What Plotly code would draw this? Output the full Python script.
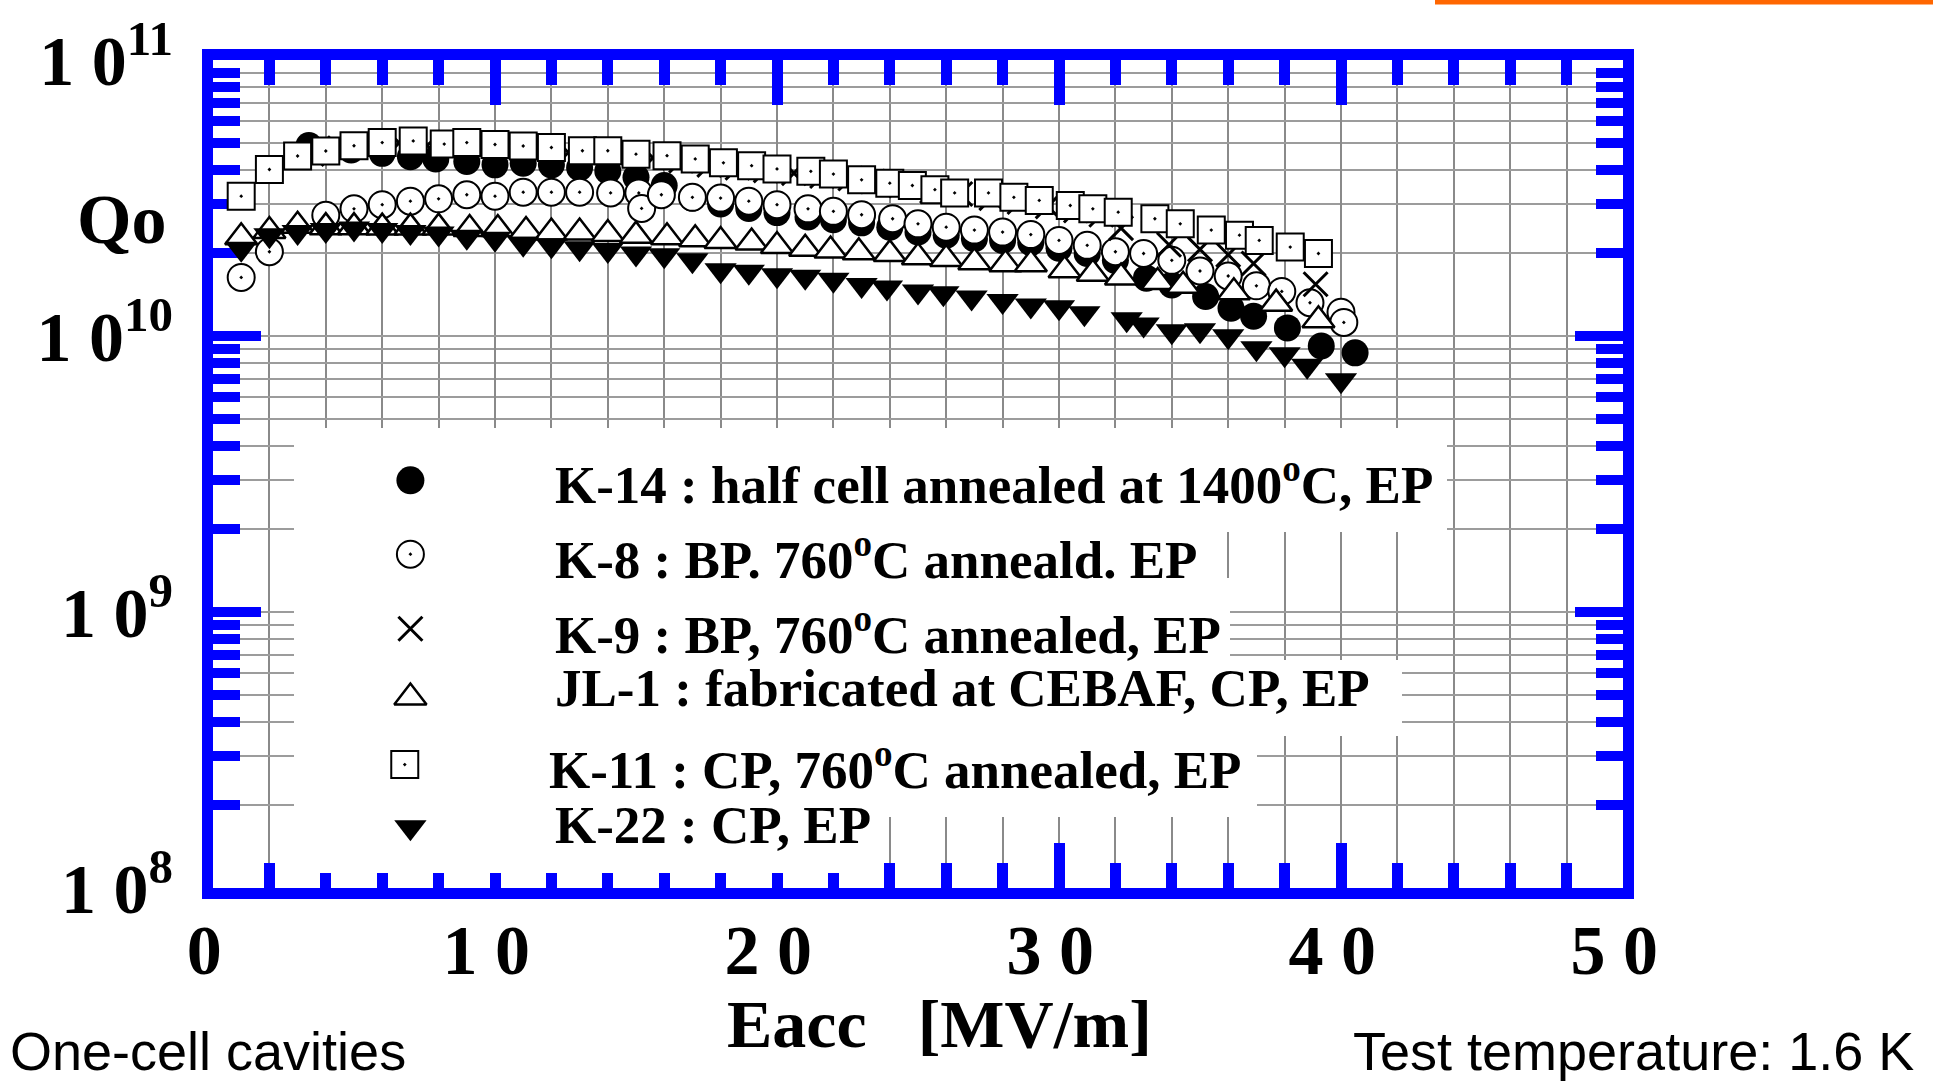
import plotly.graph_objects as go

# ---------------------------------------------------------------- geometry
FIG_W, FIG_H = 1933, 1082
M_L, M_R, M_T, M_B = 213, 310, 60, 194
PLOT_W = FIG_W - M_L - M_R
PLOT_H = FIG_H - M_T - M_B

X_RANGE = [0, 50]
Y_RANGE_LOG = [8, 11]

BLUE = "#0000ff"
GRID_V = "#8a8a8a"
GRID_H = "#9c9c9c"
SERIF = "Liberation Serif, Times New Roman, serif"
SANS = "Liberation Sans, Arial, sans-serif"

# ---------------------------------------------------------------- data
# Eacc [MV/m] and Qo for each one-cell cavity
k14_e = [3.4, 4.9, 6.0, 7.0, 7.9, 9.0, 10.0, 11.0, 12.0, 13.0, 14.0, 15.0, 16.0, 17.0,
         18.0, 19.0, 20.0, 21.1, 22.0, 23.0, 24.0, 25.0, 26.0, 27.0, 28.0, 29.0, 30.0,
         31.0, 32.0, 33.1, 34.0, 35.2, 36.1, 36.9, 38.1, 39.3, 40.5]
k14_q = [4.90e10, 4.72e10, 4.59e10, 4.46e10, 4.38e10, 4.29e10, 4.17e10, 4.23e10, 4.17e10,
         4.07e10, 3.96e10, 3.76e10, 3.51e10, 3.16e10, 3.01e10, 2.90e10, 2.80e10, 2.70e10,
         2.64e10, 2.57e10, 2.48e10, 2.38e10, 2.32e10, 2.25e10, 2.22e10, 2.18e10, 2.08e10,
         1.99e10, 1.88e10, 1.62e10, 1.53e10, 1.39e10, 1.26e10, 1.18e10, 1.07e10, 9.20e9,
         8.69e9]

k8_e = [1.0, 2.0, 4.0, 5.0, 6.0, 7.0, 8.0, 9.0, 10.0, 11.0, 12.0, 13.0, 14.1, 15.1, 15.2,
        15.9, 17.0, 18.0, 19.0, 20.0, 21.1, 22.0, 23.0, 24.1, 25.0, 26.0, 27.0, 28.0,
        29.0, 30.0, 31.0, 32.0, 33.0, 34.0, 35.0, 36.0, 37.0, 37.9, 38.9, 40.0, 40.1]
k8_q = [1.63e10, 2.02e10, 2.74e10, 2.89e10, 2.99e10, 3.08e10, 3.14e10, 3.25e10, 3.21e10,
        3.32e10, 3.32e10, 3.32e10, 3.30e10, 3.30e10, 2.90e10, 3.25e10, 3.18e10, 3.16e10,
        3.08e10, 2.99e10, 2.89e10, 2.83e10, 2.75e10, 2.66e10, 2.55e10, 2.48e10, 2.42e10,
        2.38e10, 2.33e10, 2.22e10, 2.13e10, 2.02e10, 1.99e10, 1.88e10, 1.72e10, 1.65e10,
        1.52e10, 1.45e10, 1.32e10, 1.22e10, 1.12e10]

k9_e = [3.5, 4.5, 5.5, 6.6, 7.6, 8.6, 9.6, 10.6, 11.6, 12.6, 13.6, 14.6, 15.6, 16.6,
        17.6, 18.6, 19.6, 20.6, 21.6, 22.6, 23.4, 24.4, 25.5, 26.5, 27.6, 28.6, 29.6,
        30.6, 31.5, 32.2, 33.9, 35.0, 36.0, 36.9, 39.1]
k9_q = [4.57e10, 4.79e10, 4.90e10, 5.01e10, 4.90e10, 4.90e10, 4.84e10, 4.79e10, 4.73e10,
        4.62e10, 4.57e10, 4.47e10, 4.42e10, 4.32e10, 4.17e10, 4.07e10, 3.98e10, 3.89e10,
        3.80e10, 3.72e10, 3.63e10, 3.51e10, 3.35e10, 3.27e10, 3.16e10, 3.06e10, 2.95e10,
        2.85e10, 2.75e10, 2.46e10, 2.14e10, 2.06e10, 1.97e10, 1.83e10, 1.54e10]

jl1_e = [1.0, 2.0, 3.0, 4.0, 5.0, 6.0, 7.0, 8.0, 9.1, 10.1, 11.1, 12.0, 13.0, 14.0, 15.0,
         16.1, 17.1, 18.0, 19.1, 20.0, 21.0, 21.9, 22.9, 24.0, 25.0, 26.0, 27.0, 28.1,
         29.0, 30.2, 31.2, 32.2, 33.5, 34.4, 36.2, 37.7, 39.2]
jl1_q = [2.28e10, 2.40e10, 2.51e10, 2.48e10, 2.48e10, 2.47e10, 2.47e10, 2.47e10, 2.44e10,
         2.44e10, 2.40e10, 2.37e10, 2.37e10, 2.34e10, 2.31e10, 2.28e10, 2.24e10, 2.21e10,
         2.18e10, 2.12e10, 2.07e10, 2.04e10, 2.01e10, 1.98e10, 1.93e10, 1.90e10, 1.85e10,
         1.82e10, 1.82e10, 1.73e10, 1.68e10, 1.63e10, 1.57e10, 1.52e10, 1.44e10, 1.31e10,
         1.14e10]

k11_e = [1.0, 2.0, 3.0, 4.0, 5.0, 6.0, 7.1, 8.2, 9.0, 10.0, 11.0, 12.0, 13.1, 14.0, 15.0,
         16.1, 17.1, 18.1, 19.1, 20.0, 21.2, 22.0, 23.0, 24.0, 24.8, 25.6, 26.3, 27.5,
         28.4, 29.3, 30.4, 31.2, 32.1, 33.4, 34.3, 35.4, 36.4, 37.1, 38.2, 39.2]
k11_q = [3.21e10, 4.01e10, 4.49e10, 4.68e10, 4.89e10, 5.02e10, 5.09e10, 4.96e10, 5.02e10,
         4.94e10, 4.88e10, 4.82e10, 4.69e10, 4.69e10, 4.56e10, 4.50e10, 4.38e10, 4.24e10,
         4.14e10, 4.03e10, 3.95e10, 3.86e10, 3.68e10, 3.58e10, 3.51e10, 3.39e10, 3.30e10,
         3.30e10, 3.18e10, 3.10e10, 2.97e10, 2.89e10, 2.81e10, 2.66e10, 2.55e10, 2.42e10,
         2.32e10, 2.22e10, 2.10e10, 1.99e10]

k22_e = [1.0, 2.0, 3.0, 4.0, 5.0, 6.0, 7.0, 8.0, 9.0, 10.0, 11.0, 12.0, 13.0, 14.0, 15.0,
         16.0, 17.0, 18.0, 19.0, 20.0, 21.0, 22.0, 23.0, 23.9, 25.0, 25.9, 26.9, 28.0,
         29.0, 30.0, 30.9, 32.4, 33.0, 34.0, 35.0, 36.0, 37.0, 38.0, 38.8, 40.0]
k22_q = [2.07e10, 2.32e10, 2.38e10, 2.42e10, 2.45e10, 2.42e10, 2.38e10, 2.35e10, 2.29e10,
         2.25e10, 2.16e10, 2.13e10, 2.08e10, 2.05e10, 1.99e10, 1.96e10, 1.88e10, 1.73e10,
         1.71e10, 1.66e10, 1.64e10, 1.60e10, 1.53e10, 1.50e10, 1.45e10, 1.43e10, 1.38e10,
         1.34e10, 1.29e10, 1.27e10, 1.21e10, 1.15e10, 1.10e10, 1.04e10, 1.05e10, 9.98e9,
         9.02e9, 8.59e9, 7.80e9, 6.92e9]

# axis ticks (a trailing no-break space nudges each label a little to the left)
x_major = [0, 10, 20, 30, 40, 50]
x_major_text = ["0\u00a0", "1 0\u00a0", "2 0\u00a0", "3 0\u00a0", "4 0\u00a0", "5 0\u00a0"]
x_minor = [2, 4, 6, 8, 12, 14, 16, 18, 22, 24, 26, 28, 32, 34, 36, 38, 42, 44, 46, 48]
y_major = [1e8, 1e9, 1e10, 1e11]
y_major_text = ["1 0<sup>8</sup>", "1 0<sup>9</sup>", "1 0<sup>10</sup>", "1 0<sup>11</sup>"]
y_minor = [m * 10 ** d for d in (8, 9, 10) for m in range(2, 10)]

# legend entries (key marker at Eacc = legend_key_e)
legend_labels = [
    "K-14 : half cell annealed at 1400<sup>o</sup>C, EP",
    "K-8 : BP. 760<sup>o</sup>C anneald. EP",
    "K-9 : BP, 760<sup>o</sup>C annealed, EP",
    "JL-1 : fabricated at CEBAF, CP, EP",
    "K-11 : CP, 760<sup>o</sup>C annealed, EP",
    "K-22 : CP, EP",
]
legend_key_e = [7.0, 7.0, 7.0, 7.0, 6.8, 7.0]
legend_key_q = [3.0e9, 1.62e9, 8.7e8, 4.9e8, 2.8e8, 1.66e8]


# ---------------------------------------------------------------- helpers
def paper_x(px):
    return (px - M_L) / PLOT_W


def paper_y(py):
    return 1 - (py - M_T) / PLOT_H


def data_x(px):
    return X_RANGE[0] + (px - M_L) / PLOT_W * (X_RANGE[1] - X_RANGE[0])


def data_y(py):
    lg = Y_RANGE_LOG[1] - (py - M_T) / PLOT_H * (Y_RANGE_LOG[1] - Y_RANGE_LOG[0])
    return 10 ** lg


# marker styles
styles = {
    "K-14": dict(symbol="circle", size=27, color="black", line=dict(width=0)),
    "K-8": dict(symbol="circle-dot", size=27, color="white", line=dict(width=2, color="black")),
    "JL-1": dict(symbol="triangle-up", size=28, color="white", line=dict(width=2.5, color="black")),
    "K-22": dict(symbol="triangle-down", size=28, color="black", line=dict(width=0)),
    "K-9": dict(symbol="x-thin", size=24, color="black", line=dict(width=3, color="black")),
    "K-11": dict(symbol="square-dot", size=27, color="white", line=dict(width=2, color="black")),
}
series = {
    "K-14": (k14_e, k14_q),
    "K-8": (k8_e, k8_q),
    "JL-1": (jl1_e, jl1_q),
    "K-22": (k22_e, k22_q),
    "K-9": (k9_e, k9_q),
    "K-11": (k11_e, k11_q),
}
legend_order = ["K-14", "K-8", "K-9", "JL-1", "K-11", "K-22"]

fig = go.Figure()

# white backing of the legend block, one box per row; drawn as the first
# traces so it hides the grid (and the tops of the bottom ticks) behind it
legend_rows_px = [
    (294, 1447, 428, 532),
    (294, 1224, 532, 578),
    (294, 1230, 578, 660),
    (294, 1402, 660, 736),
    (294, 1257, 736, 817),
    (294, 877, 817, 873),
]
for x0, x1, y0, y1 in legend_rows_px:
    fig.add_trace(go.Scatter(
        x=[data_x(x0), data_x(x1), data_x(x1), data_x(x0), data_x(x0)],
        y=[data_y(y0), data_y(y0), data_y(y1), data_y(y1), data_y(y0)],
        mode="lines", fill="toself", fillcolor="white", line=dict(width=0, color="white"),
        showlegend=False, hoverinfo="skip"))

# measured points, bottom to top
for name in ["K-14", "K-8", "JL-1", "K-22", "K-9", "K-11"]:
    e, q = series[name]
    fig.add_trace(go.Scatter(x=e, y=q, mode="markers", name=name,
                             marker=styles[name], showlegend=False, hoverinfo="skip"))

# legend key markers
for i, name in enumerate(legend_order):
    st = dict(styles[name])
    if name == "K-14":
        st["size"] = 28
    fig.add_trace(go.Scatter(x=[legend_key_e[i]], y=[legend_key_q[i]], mode="markers",
                             marker=st, showlegend=False, hoverinfo="skip"))

shapes = [
    # orange header bar
    dict(type="rect", xref="paper", yref="paper",
         x0=paper_x(1435), x1=paper_x(FIG_W), y0=paper_y(4.5), y1=paper_y(0),
         line=dict(width=0), fillcolor="#ff6600"),
]

annotations = []
legend_text_px = [(553, 481), (553, 556), (553, 631), (553, 688), (547, 766), (553, 825)]
for label, (tx, ty) in zip(legend_labels, legend_text_px):
    annotations.append(dict(text=label, xref="paper", yref="paper",
                            x=paper_x(tx), y=paper_y(ty), xanchor="left", yanchor="middle",
                            showarrow=False,
                            font=dict(family=SERIF, size=53, color="black", weight="bold")))

annotations += [
    dict(text="Qo", xref="paper", yref="paper", x=paper_x(168), y=paper_y(220),
         xanchor="right", yanchor="middle", showarrow=False,
         font=dict(family=SERIF, size=70, color="black", weight="bold")),
    dict(text="Eacc&nbsp;&nbsp;&nbsp;[MV/m]", xref="paper", yref="paper",
         x=paper_x(939), y=paper_y(1024), xanchor="center", yanchor="middle", showarrow=False,
         font=dict(family=SERIF, size=68, color="black", weight="bold")),
    dict(text="One-cell cavities", xref="paper", yref="paper", x=paper_x(8), y=paper_y(1051),
         xanchor="left", yanchor="middle", showarrow=False,
         font=dict(family=SANS, size=54, color="black")),
    dict(text="Test temperature: 1.6 K", xref="paper", yref="paper", x=paper_x(1916),
         y=paper_y(1051), xanchor="right", yanchor="middle", showarrow=False,
         font=dict(family=SANS, size=54, color="black")),
]

tick_font = dict(family=SERIF, size=70, color="black", weight="bold")

fig.update_layout(
    width=FIG_W, height=FIG_H,
    margin=dict(l=M_L, r=M_R, t=M_T, b=M_B, pad=0),
    paper_bgcolor="white", plot_bgcolor="white",
    showlegend=False,
    shapes=shapes, annotations=annotations,
    xaxis=dict(
        range=X_RANGE, automargin=False, zeroline=False, layer="below traces",
        showline=True, linecolor=BLUE, linewidth=11, mirror="ticks",
        tickmode="array", tickvals=x_major, ticktext=x_major_text,
        ticks="inside", ticklen=45, tickwidth=11, tickcolor=BLUE,
        tickfont=tick_font, ticklabelstandoff=-9,
        showgrid=True, gridcolor=GRID_V, gridwidth=1.8,
        minor=dict(tickmode="array", tickvals=x_minor, ticks="inside", ticklen=25,
                   tickwidth=11, tickcolor=BLUE, showgrid=True, gridcolor=GRID_V,
                   gridwidth=1.8),
    ),
    yaxis=dict(
        type="log", range=Y_RANGE_LOG, automargin=False, zeroline=False, layer="below traces",
        showline=True, linecolor=BLUE, linewidth=11, mirror="ticks",
        tickmode="array", tickvals=y_major, ticktext=y_major_text,
        ticks="inside", ticklen=48, tickwidth=10, tickcolor=BLUE,
        tickfont=tick_font, ticklabelstandoff=15,
        showgrid=True, gridcolor=GRID_H, gridwidth=2.4,
        minor=dict(tickmode="array", tickvals=y_minor, ticks="inside", ticklen=27,
                   tickwidth=10, tickcolor=BLUE, showgrid=True, gridcolor=GRID_H,
                   gridwidth=2.4),
    ),
)

fig.write_html("out.html")
